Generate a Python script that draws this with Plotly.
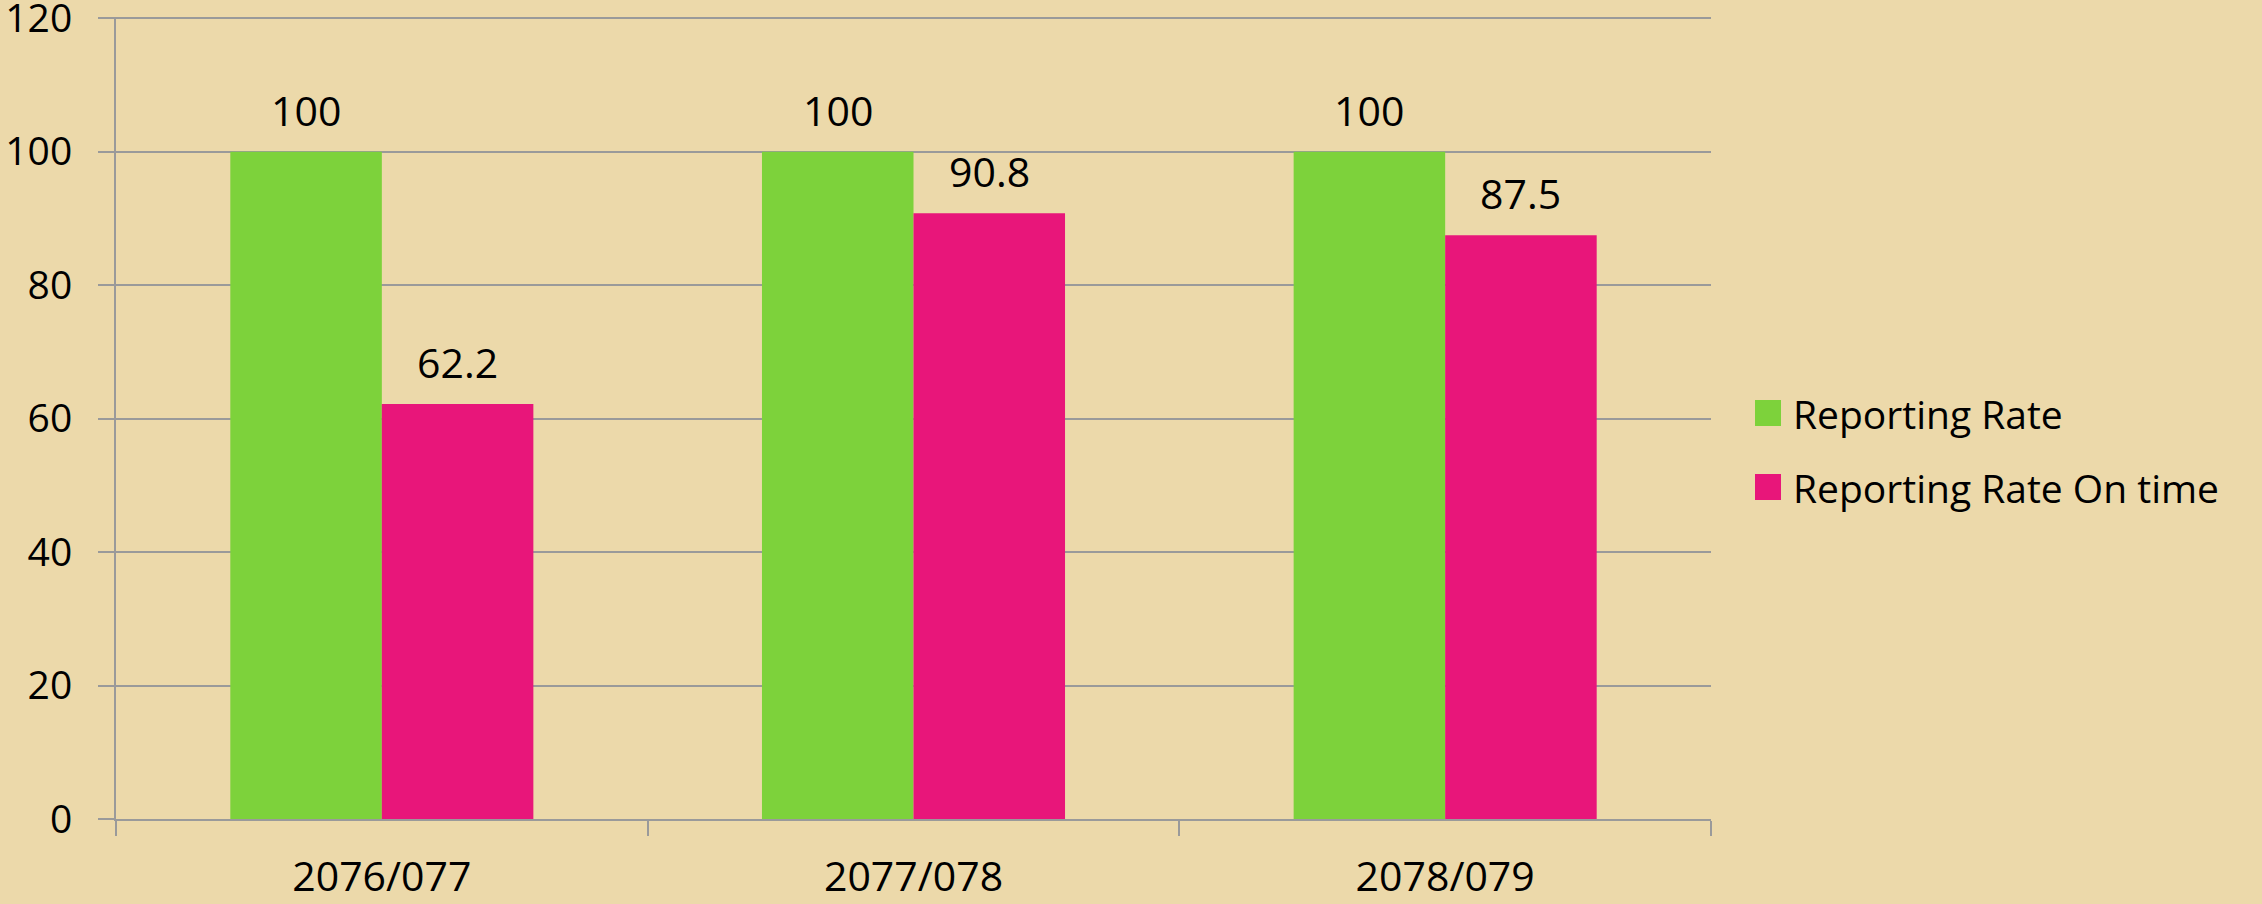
import plotly.graph_objects as go

categories = ["2076/077", "2077/078", "2078/079"]
series_names = ["Reporting Rate", "Reporting Rate On time"]
reporting_rate = [100, 100, 100]
reporting_rate_on_time = [62.2, 90.8, 87.5]
y_ticks = [0, 20, 40, 60, 80, 100, 120]

colors = ["#7DD23B", "#E8167A"]
bg = "#ECD9AA"
grid = "#9A9A9A"
font_family = "Open Sans, Liberation Sans, sans-serif"

W, H = 2262, 904
ml, mr, mt, mb = 116, 551, 17, 85
bargap = 0.43
plot_w = W - ml - mr
plot_h = H - mt - mb
cat_w = plot_w / len(categories)
bar_w = cat_w * (1 - bargap) / 2

fig = go.Figure()
values = [reporting_rate, reporting_rate_on_time]
for i, (name, vals) in enumerate(zip(series_names, values)):
    fig.add_trace(go.Bar(x=categories, y=vals, name=name,
                         marker=dict(color=colors[i], line=dict(width=0)),
                         showlegend=False, hoverinfo="skip"))
    for c, v in zip(categories, vals):
        fig.add_annotation(x=c, y=v, xref="x", yref="y", text=f"{v:g}",
                           showarrow=False, yanchor="bottom",
                           xshift=(i - 0.5) * bar_w, yshift=12,
                           font=dict(family=font_family, size=41, color="black"))

# legend (manual, to get large square swatches)
leg_x_px = 1755
leg_rows_px = [413, 487]
for i, name in enumerate(series_names):
    yc = (H - mb - leg_rows_px[i]) / plot_h
    xa = (leg_x_px - ml) / plot_w
    fig.add_shape(type="rect", xref="paper", yref="paper",
                  xsizemode="pixel", ysizemode="pixel",
                  xanchor=xa, yanchor=yc, x0=0, x1=26, y0=-13, y1=13,
                  fillcolor=colors[i], line=dict(width=0), layer="above")
    fig.add_annotation(x=(leg_x_px + 36 - ml) / plot_w, y=yc, xref="paper", yref="paper",
                       text=name, showarrow=False, xanchor="left", yanchor="middle",
                       font=dict(family=font_family, size=39, color="black"))

fig.update_layout(
    width=W, height=H,
    margin=dict(l=ml, r=mr, t=mt, b=mb, autoexpand=False),
    paper_bgcolor=bg, plot_bgcolor=bg,
    barmode="group", bargap=bargap, bargroupgap=0,
    showlegend=False, hovermode=False,
    font=dict(family=font_family, size=41, color="black"),
)
fig.update_xaxes(showline=True, linecolor=grid, linewidth=2, automargin=False,
                 ticks="outside", tickson="boundaries", ticklen=15, tickcolor=grid, tickwidth=2,
                 showgrid=False, tickfont=dict(size=41), ticklabelstandoff=21,
                 ticklabeloverflow="allow")
fig.update_yaxes(range=[0, 120.2], tickvals=y_ticks, showline=True, linecolor=grid, linewidth=2,
                 automargin=False, ticklabeloverflow="allow",
                 ticks="outside", ticklen=16, tickcolor=grid, tickwidth=2,
                 showgrid=True, gridcolor=grid, gridwidth=2, zeroline=False,
                 tickfont=dict(size=39), ticklabelstandoff=18)

post = ("document.body.style.margin='0';"
        "document.body.style.padding='0';"
        "document.body.style.overflow='hidden';"
        "document.body.style.background='" + bg + "';")
fig.write_html("out.html", post_script=post, config={"displayModeBar": False})
